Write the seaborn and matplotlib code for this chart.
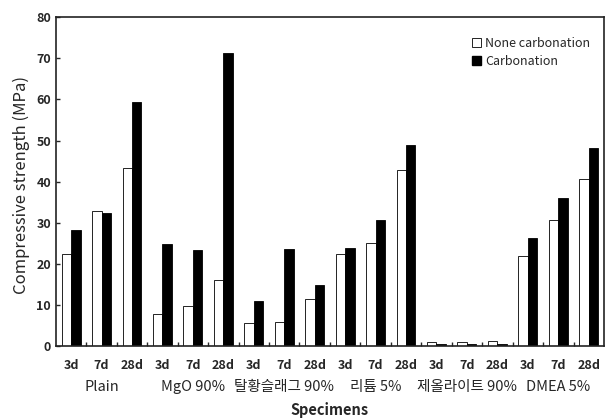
import pandas as pd
import matplotlib.pyplot as plt
import matplotlib.transforms as mtransforms
from matplotlib.patches import Patch
import seaborn as sns

# 시편 / 재령 / 압축강도 데이터
groups = ["Plain", "MgO 90%", "탈황슬래그 90%", "리튬 5%", "제올라이트 90%", "DMEA 5%"]
ages = ["3d", "7d", "28d"]
series = ["None carbonation", "Carbonation"]
none_carb = [22.3, 32.9, 43.4, 7.9, 9.8, 16.0, 5.6, 5.8, 11.5,
             22.4, 25.0, 42.9, 1.0, 1.1, 1.3, 22.0, 30.7, 40.6]
carb = [28.2, 32.4, 59.4, 24.9, 23.4, 71.4, 11.0, 23.5, 14.8,
        23.8, 30.7, 49.0, 0.4, 0.5, 0.4, 26.3, 36.1, 48.2]

# 긴 형태의 데이터프레임 만들기
cats = [f"{g} {a}" for g in groups for a in ages]
df = pd.DataFrame({
    "시편": cats * 2,
    "구분": [series[0]] * len(cats) + [series[1]] * len(cats),
    "강도": none_carb + carb,
})

sns.set_theme(style="ticks")
plt.rcParams["font.family"] = ["Noto Sans CJK KR", "DejaVu Sans"]
plt.rcParams["axes.unicode_minus"] = False

fig = plt.figure(figsize=(6.07, 4.18), dpi=100)
ax = fig.add_axes([0.092, 0.172, 0.903, 0.787])

sns.barplot(data=df, x="시편", y="강도", hue="구분", order=cats,
            hue_order=series, palette=["white", "black"], edgecolor="black",
            linewidth=0.6, width=0.62, ax=ax, legend=False)

ax.set_ylim(0, 80)
ax.set_xlim(-0.5, len(cats) - 0.5)
ax.set_yticks(range(0, 81, 10))
ax.set_xticks(range(len(cats)))
ax.set_xticklabels(ages * len(groups), fontsize=9, fontweight="bold")
ax.set_xticks([i + 0.5 for i in range(len(cats) - 1)], minor=True)
ax.tick_params(axis="x", which="major", length=0, pad=9)
ax.tick_params(axis="x", which="minor", direction="in", length=3, width=1)
ax.tick_params(axis="y", direction="in", length=3, width=1, labelsize=9)
for t in ax.get_yticklabels():
    t.set_fontweight("bold")

for s in ax.spines.values():
    s.set_visible(True)
    s.set_color("#222222")
    s.set_linewidth(1.2)

# 시편 이름 (3개 재령 가운데)
trans = mtransforms.blended_transform_factory(ax.transData, ax.transAxes)
for i, g in enumerate(groups):
    ax.text(i * 3 + 1, -0.125, g, transform=trans, ha="center", va="center",
            fontsize=10.5)

ax.set_xlabel("Specimens", fontsize=10.5, fontweight="bold")
ax.xaxis.set_label_coords(0.5, -0.17)
ax.set_ylabel("Compressive strength (MPa)", fontsize=12)
ax.yaxis.set_label_coords(-0.048, 0.49)

handles = [Patch(facecolor="white", edgecolor="black", linewidth=0.6),
           Patch(facecolor="black", edgecolor="black")]
ax.legend(handles, series, loc="upper right", frameon=False, fontsize=9,
          handlelength=0.7, handleheight=0.7, handletextpad=0.3,
          labelspacing=0.4, bbox_to_anchor=(0.995, 0.975))

fig.savefig("out.png", dpi=100)
